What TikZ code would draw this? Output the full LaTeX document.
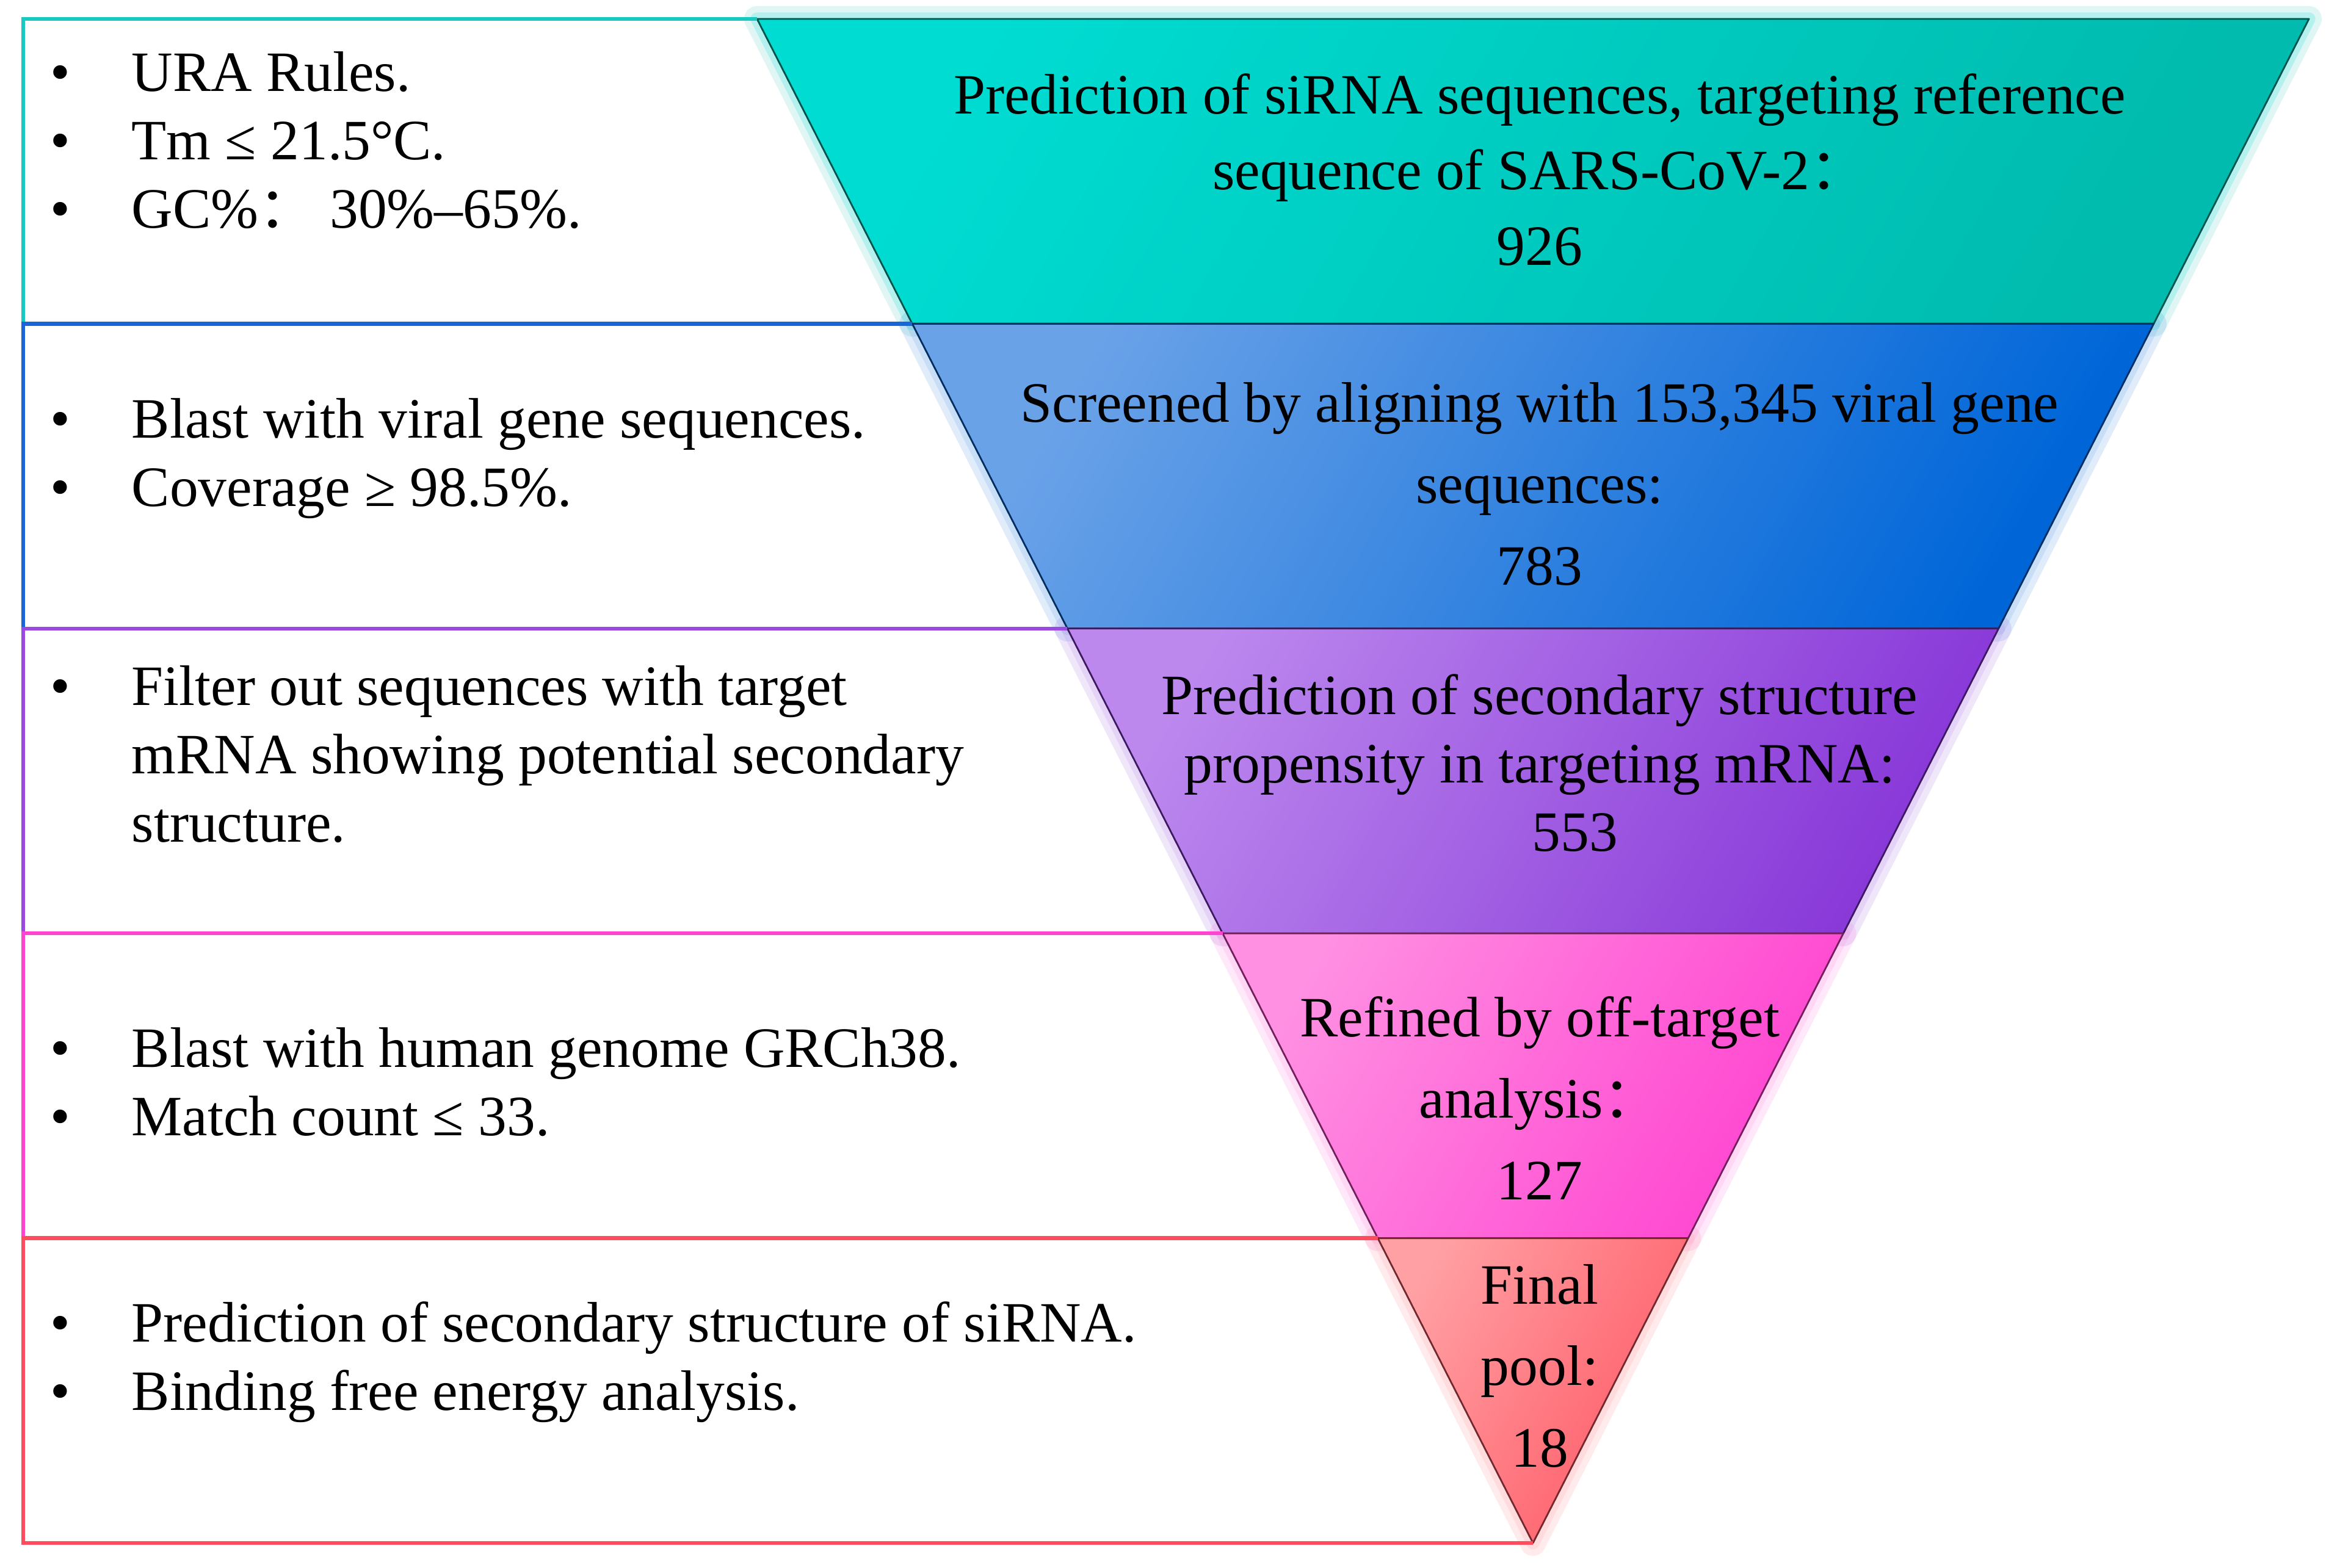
\documentclass[tikz,border=0pt]{standalone}
\usepackage{fontspec}
\setmainfont{Liberation Serif}
\newfontfamily\cjk{Noto Sans CJK SC}
\usetikzlibrary{positioning}
% segment colours, light (left) and dark (right)
\definecolor{tealL}{HTML}{00DCD2}\definecolor{tealR}{HTML}{00BBAE}
\definecolor{blueL}{HTML}{6AA2E8}\definecolor{blueR}{HTML}{0066D8}
\definecolor{violL}{HTML}{BC88EE}\definecolor{violR}{HTML}{8838D8}
\definecolor{pinkL}{HTML}{FF90E2}\definecolor{pinkR}{HTML}{FF44D0}
\definecolor{redL}{HTML}{FFA0A4}\definecolor{redR}{HTML}{FF5A66}
% box line colours
\definecolor{tealB}{HTML}{19C8C0}\definecolor{blueB}{HTML}{1A66D8}
\definecolor{violB}{HTML}{9A4AE0}\definecolor{pinkB}{HTML}{FF44D0}
\definecolor{redB}{HTML}{FF4D60}
\tikzset{
  seg/.style 2 args={left color=#1, right color=#2, shading angle=60, draw=black!55!#2, line width=0.8pt, line join=round},
  glow/.style={draw=#1, line width=12pt, opacity=0.12, line join=round},
  glowin/.style={draw=#1, line width=6pt, opacity=0.2, line join=round},
  boxline/.style={draw=#1, line width=1.8pt},
  stagetext/.style={align=center, font=\fontsize{26.6}{38}\selectfont},
  ruletext/.style={anchor=west, inner sep=0pt, font=\fontsize{26.6}{31.9}\selectfont}
}
\begin{document}
\begin{tikzpicture}
\fill[white] (0,0) rectangle (38.28,25.68);
\useasboundingbox (0,0) rectangle (38.28,25.68);
% corners of the funnel and of the boxes
\foreach \k in {0,...,5} {
  \coordinate (L\k) at ({12.40+2.542*\k},{25.37-4.994*\k});
  \coordinate (R\k) at ({37.82-2.542*\k},{25.37-4.994*\k});
  \coordinate (B\k) at (0.38,{25.37-4.994*\k});
}
% glow
\draw[glow=tealR] (L0) -- (R0) -- (R1) -- (L1) -- cycle;
\draw[glow=blueR] (L1) -- (R1) -- (R2) -- (L2) -- cycle;
\draw[glow=violR] (L2) -- (R2) -- (R3) -- (L3) -- cycle;
\draw[glow=pinkR] (L3) -- (R3) -- (R4) -- (L4) -- cycle;
\draw[glow=redR] (L4) -- (R4) -- (L5) -- cycle;
\draw[glowin=tealL] (L0) -- (R0) -- (R1) -- (L1) -- cycle;
\draw[glowin=blueL] (L1) -- (R1) -- (R2) -- (L2) -- cycle;
\draw[glowin=violL] (L2) -- (R2) -- (R3) -- (L3) -- cycle;
\draw[glowin=pinkL] (L3) -- (R3) -- (R4) -- (L4) -- cycle;
\draw[glowin=redL] (L4) -- (R4) -- (L5) -- cycle;
% funnel
\shade[seg={tealL}{tealR}] (L0) -- (R0) -- (R1) -- (L1) -- cycle;
\shade[seg={blueL}{blueR}] (L1) -- (R1) -- (R2) -- (L2) -- cycle;
\shade[seg={violL}{violR}] (L2) -- (R2) -- (R3) -- (L3) -- cycle;
\shade[seg={pinkL}{pinkR}] (L3) -- (R3) -- (R4) -- (L4) -- cycle;
\shade[seg={redL}{redR}] (L4) -- (R4) -- (L5) -- cycle;
% boxes
\draw[boxline=tealB] (L0) -- (B0) -- (B1);
\draw[boxline=blueB] (L1) -- (B1) -- (B2);
\draw[boxline=violB] (L2) -- (B2) -- (B3);
\draw[boxline=pinkB] (L3) -- (B3) -- (B4);
\draw[boxline=redB] (L4) -- (B4) -- (B5) -- (L5);
% funnel texts
\node[stagetext, font=\fontsize{26.6}{35.4}\selectfont] (s1) at (25.22,22.90)
  {Prediction of siRNA sequences, targeting reference\\ sequence of SARS-CoV-2{\cjk ：}\\ 926};
\node[stagetext] (s2) at (25.22,17.75) {Screened by aligning with 153,345 viral gene\\ sequences:\\ 783};
\node[stagetext, font=\fontsize{26.6}{31.9}\selectfont] (s3) at (25.22,13.18)
  {Prediction of secondary structure\\ propensity in targeting mRNA:\\ \hspace*{1.16cm}553};
\node[stagetext] (s4) at (25.22,7.69) {Refined by off-target\\ analysis{\cjk ：}\\ 127};
\node[stagetext] (s5) at (25.22,3.30) {Final\\ pool:\\ 18};
% rule texts
\node[ruletext] (r1) at (0.82,23.29) {\begin{tabular}{@{}p{1.33cm}@{}l@{}}
  • & URA Rules.\\ • & Tm ≤ 21.5°C.\\ • & GC\%{\cjk ：} 30\%–65\%.\end{tabular}};
\node[ruletext] (r2) at (0.82,18.17) {\begin{tabular}{@{}p{1.33cm}@{}l@{}}
  • & Blast with viral gene sequences.\\ • & Coverage ≥ 98.5\%.\end{tabular}};
\node[ruletext] (r3) at (0.82,13.23) {\begin{tabular}{@{}p{1.33cm}@{}l@{}}
  • & Filter out sequences with target\\ & mRNA showing potential secondary\\ & structure.\end{tabular}};
\node[ruletext] (r4) at (0.82,7.86) {\begin{tabular}{@{}p{1.33cm}@{}l@{}}
  • & Blast with human genome GRCh38.\\ • & Match count ≤ 33.\end{tabular}};
\node[ruletext] (r5) at (0.82,3.36) {\begin{tabular}{@{}p{1.33cm}@{}l@{}}
  • & Prediction of secondary structure of siRNA.\\ • & Binding free energy analysis.\end{tabular}};
\end{tikzpicture}
\end{document}
